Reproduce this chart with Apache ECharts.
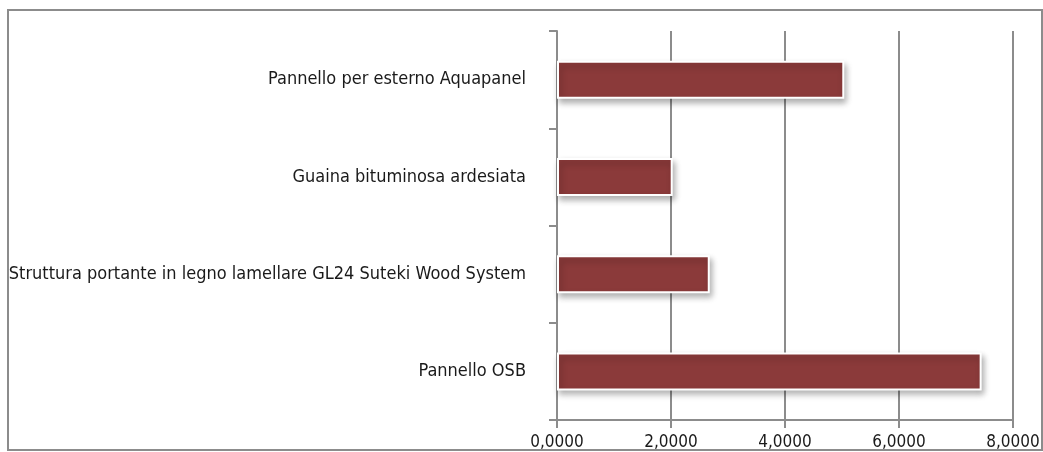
<!DOCTYPE html>
<html>
<head>
<meta charset="utf-8">
<script src="https://cdn.jsdelivr.net/npm/echarts@6/dist/echarts.min.js"></script>
<style>
html,body{margin:0;padding:0;background:#fff;}
#c{width:1043px;height:452px;}
</style>
</head>
<body>
<div id="c"></div>
<script>
const categories = [
  "Pannello OSB",
  "Struttura portante in legno lamellare GL24 Suteki Wood System",
  "Guaina bituminosa ardesiata",
  "Pannello per esterno Aquapanel"
];
const values = [7.45, 2.68, 2.03, 5.04];
const xTicks = [0, 2, 4, 6, 8];

const chart = echarts.init(document.getElementById('c'), null, {renderer: 'canvas'});
const fontFamily = 'DejaVu Sans Condensed';
chart.setOption({
  animation: false,
  backgroundColor: '#fff',
  graphic: [{
    type: 'rect',
    shape: {x: 8, y: 10, width: 1034, height: 440},
    style: {fill: 'none', stroke: '#8c8c8c', lineWidth: 2},
    silent: true, z: 0
  }],
  grid: {left: 557, right: 30, top: 31, bottom: 32, containLabel: false},
  xAxis: {
    type: 'value',
    min: xTicks[0], max: xTicks[xTicks.length - 1], interval: 2,
    axisLine: {show: true, onZero: false, lineStyle: {color: '#8c8c8c', width: 2}},
    axisTick: {show: true, length: 8, lineStyle: {color: '#8c8c8c', width: 2}},
    splitLine: {show: true, lineStyle: {color: '#8c8c8c', width: 2}},
    axisLabel: {
      color: '#1a1a1a', fontFamily: fontFamily, fontSize: 17, margin: 14,
      formatter: v => v.toFixed(4).replace('.', ',')
    }
  },
  yAxis: {
    type: 'category',
    data: categories,
    axisLine: {show: true, lineStyle: {color: '#8c8c8c', width: 2}},
    axisTick: {show: true, length: 8, lineStyle: {color: '#8c8c8c', width: 2}},
    splitLine: {show: false},
    axisLabel: {color: '#1a1a1a', fontFamily: fontFamily, fontSize: 18, margin: 31}
  },
  series: [{
    type: 'bar',
    data: values,
    barWidth: 38,
    itemStyle: {
      color: '#8b3a3a',
      borderColor: '#ffffff',
      borderWidth: 2,
      shadowColor: 'rgba(0,0,0,0.3)',
      shadowBlur: 6,
      shadowOffsetX: 2,
      shadowOffsetY: 4
    }
  }]
});
</script>
</body>
</html>
